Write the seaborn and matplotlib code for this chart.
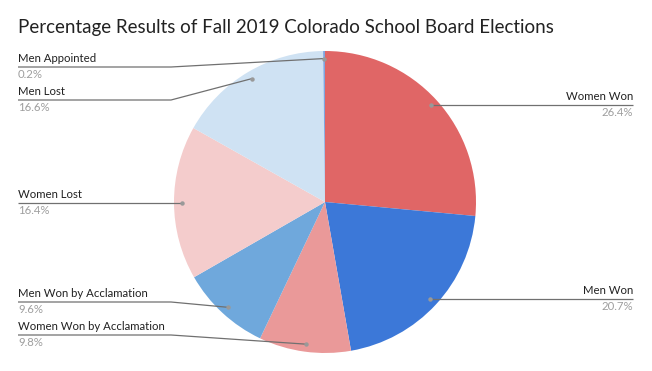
import matplotlib
matplotlib.use("Agg")
import matplotlib.pyplot as plt
import seaborn as sns
import numpy as np

sns.set_theme(style="white")
plt.rcParams['font.family'] = ['Lato', 'DejaVu Sans']

# Data
categories = ["Women Won", "Men Won", "Women Won by Acclamation",
              "Men Won by Acclamation", "Women Lost", "Men Lost", "Men Appointed"]
values = [26.4, 20.7, 9.8, 9.6, 16.4, 16.6, 0.2]
pct_labels = ["26.4%", "20.7%", "9.8%", "9.6%", "16.4%", "16.6%", "0.2%"]
colors = ["#e06666", "#3c78d8", "#ea9999", "#6fa8dc", "#f4cccc", "#cfe2f3", "#7fa6e0"]

# Layout (pixels)
W, H = 652, 371
cx, cy, R = 325, 202, 151
label_side = ["right", "right", "left", "left", "left", "left", "left"]
label_line_y = [None, None, 335, 302, None, 100, 67]  # None -> line at dot height

fig = plt.figure(figsize=(W / 100, H / 100), dpi=100)
ax = fig.add_axes([0, 0, 1, 1])
ax.set_xlim(0, W)
ax.set_ylim(0, H)
ax.set_aspect("equal")
ax.axis("off")

wedges, _ = ax.pie(values, colors=colors, startangle=90, counterclock=False,
                   center=(cx, H - cy), radius=R, frame=True,
                   wedgeprops=dict(linewidth=0))
ax.set_xlim(0, W)
ax.set_ylim(0, H)
ax.axis("off")

for w, name, pct, side, ly in zip(wedges, categories, pct_labels, label_side, label_line_y):
    mid = np.deg2rad((w.theta1 + w.theta2) / 2)
    dx = cx + 0.95 * R * np.cos(mid)
    dy = (H - cy) + 0.95 * R * np.sin(mid)
    line_y = dy if ly is None else H - ly
    if side == "right":
        xs = [dx, 633]
        ys = [dy, line_y]
        ax.plot(xs, ys, color="#707070", lw=0.9, solid_capstyle="butt")
        ax.text(633, line_y + 3, name, ha="right", va="bottom", fontsize=8.2, color="#222222")
        ax.text(633, line_y - 2, pct, ha="right", va="top", fontsize=8.2, color="#9e9e9e")
    else:
        if ly is None:
            xs = [18, dx]
            ys = [line_y, dy]
        else:
            xs = [18, 171, dx]
            ys = [line_y, line_y, dy]
        ax.plot(xs, ys, color="#707070", lw=0.9, solid_capstyle="butt")
        ax.text(18, line_y + 3, name, ha="left", va="bottom", fontsize=8.2, color="#222222")
        ax.text(18, line_y - 2, pct, ha="left", va="top", fontsize=8.2, color="#9e9e9e")
    ax.plot([dx], [dy], "o", ms=3.2, color="#999999", mec="none")

fig.text(18 / W, 1 - 27 / H, "Percentage Results of Fall 2019 Colorado School Board Elections",
         ha="left", va="center", fontsize=13.5, color="#222222")

fig.savefig("out.png", dpi=100, facecolor="white")
